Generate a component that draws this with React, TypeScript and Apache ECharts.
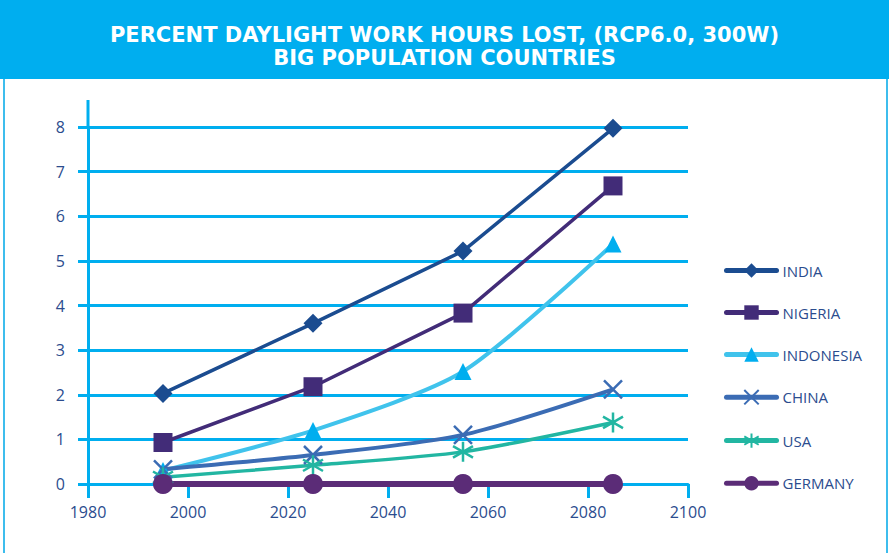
import React, { useEffect, useRef } from "react";
import * as echarts from "echarts";

const years = [1995, 2025, 2055, 2085];
const india = [2.03, 3.6, 5.22, 7.97];
const nigeria = [0.93, 2.18, 3.83, 6.68];
const indonesia = [0.3, 1.2, 2.52, 5.38];
const china = [0.33, 0.65, 1.1, 2.12];
const usa = [0.15, 0.42, 0.72, 1.38];
const germany = [0, 0, 0, 0];

const seriesNames = ["INDIA", "NIGERIA", "INDONESIA", "CHINA", "USA", "GERMANY"];
const titleText = "PERCENT DAYLIGHT WORK HOURS LOST, (RCP6.0, 300W)\nBIG POPULATION COUNTRIES";

const BLUE = "#00AEEF";
const LABEL = "#2B4C8E";

const X_SYMBOL = "path://M0,0L20,20M20,0L0,20";
const STAR_SYMBOL = "path://M10,0L10,20M0,4.23L20,15.77M20,4.23L0,15.77";

function pairs(vals: number[]) {
  return years.map((y, i) => [y, vals[i]]);
}

export default function App() {
  const ref = useRef<HTMLDivElement>(null);
  useEffect(() => {
    if (!ref.current) return;
    const chart = echarts.init(ref.current, undefined, { renderer: "svg" });
    const mk = (
      name: string,
      vals: number[],
      lineColor: string,
      lineWidth: number,
      symbol: string,
      symbolSize: number | number[],
      markerColor: string,
      smooth: number | boolean,
      stroke?: boolean
    ) => ({
      name,
      type: "line",
      data: pairs(vals),
      smooth,
      symbol,
      symbolSize,
      showAllSymbol: true,
      lineStyle: { color: lineColor, width: lineWidth },
      itemStyle: stroke
        ? { color: "rgba(0,0,0,0)", borderColor: markerColor, borderWidth: 2.5 }
        : { color: markerColor, borderWidth: 0 },
      z: 3,
    });
    chart.setOption({
      animation: false,
      backgroundColor: "#ffffff",
      title: {
        text: titleText,
        left: "center",
        top: 18,
        textStyle: {
          color: "#ffffff",
          fontFamily: "DejaVu Sans",
          fontWeight: "bold",
          fontSize: 21,
          lineHeight: 23,
        },
      },
      graphic: [
        { type: "rect", z: -10, shape: { x: 0, y: 0, width: 889, height: 79 }, style: { fill: BLUE } },
        { type: "rect", z: -10, shape: { x: 3, y: 79, width: 2, height: 474 }, style: { fill: "#3DBDED" } },
        { type: "rect", z: -10, shape: { x: 886, y: 79, width: 2, height: 474 }, style: { fill: "#3DBDED" } },
        { type: "line", z: 1, shape: { x1: 88, y1: 100, x2: 88, y2: 128 }, style: { stroke: BLUE, lineWidth: 3 } },
      ],
      legend: {
        orient: "vertical",
        left: 719,
        top: 258,
        itemWidth: 50,
        itemHeight: 18,
        itemGap: 27,
        data: seriesNames,
        lineStyle: { width: 5, cap: "round" },
        textStyle: {
          color: LABEL,
          fontFamily: "Open Sans",
          fontSize: 15,
          padding: [0, 0, 0, 1],
        },
      },
      grid: { left: 88, right: 201, top: 127, bottom: 69, containLabel: false },
      xAxis: {
        type: "value",
        min: 1980,
        max: 2100,
        interval: 20,
        axisLine: { show: true, lineStyle: { color: BLUE, width: 3 } },
        axisTick: { show: true, length: 14, lineStyle: { color: BLUE, width: 3 } },
        axisLabel: {
          color: LABEL,
          fontFamily: "Open Sans",
          fontSize: 16,
          margin: 20,
          formatter: (v: number) => String(v),
        },
        splitLine: { show: false },
      },
      yAxis: {
        type: "value",
        min: 0,
        max: 8,
        interval: 1,
        axisLine: { show: true, lineStyle: { color: BLUE, width: 3 } },
        axisTick: { show: true, length: 10, lineStyle: { color: BLUE, width: 3 } },
        axisLabel: { color: LABEL, fontFamily: "Open Sans", fontSize: 16, margin: 23 },
        splitLine: { show: true, lineStyle: { color: BLUE, width: 3 } },
      },
      series: [
        mk("INDIA", india, "#1B4C90", 3.5, "diamond", 19, "#1B4C90", false),
        mk("NIGERIA", nigeria, "#422C78", 3.5, "rect", 19, "#422C78", false),
        mk("INDONESIA", indonesia, "#40C3EC", 4, "triangle", 17, "#00AEEF", 0.25),
        mk("CHINA", china, "#3B6CB4", 4, X_SYMBOL, 18, "#3B6CB4", 0.25, true),
        mk("USA", usa, "#22B6A2", 3.5, STAR_SYMBOL, 20, "#22B6A2", 0.25, true),
        mk("GERMANY", germany, "#5B2C77", 6, "circle", 20, "#5B2C77", false),
      ],
    });
    return () => chart.dispose();
  }, []);
  return (
    <div
      ref={ref}
      style={{ position: "absolute", left: 0, top: 0, width: 889, height: 553 }}
    />
  );
}
